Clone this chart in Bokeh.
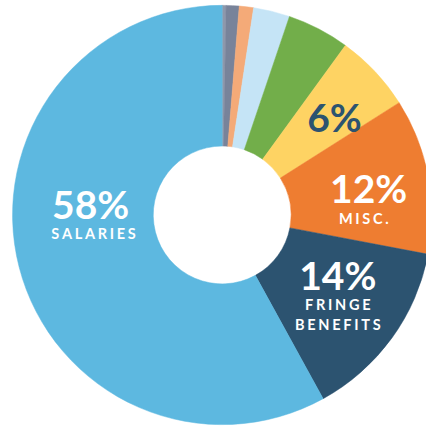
import math
from bokeh.plotting import figure
from bokeh.models import Range1d, ColumnDataSource
from bokeh.core.properties import value
from bokeh.embed import file_html
from bokeh.resources import INLINE

# ---- data ----
categories = ["Other A", "Other B", "Other C", "Other D", "Other E",
              "Other F", "Misc.", "Fringe Benefits", "Salaries"]
shares = [0.3, 1.0, 1.1, 2.8, 4.8, 6, 12, 14, 58]
colors = ["#8e98ab", "#78839a", "#f4aa78", "#c5e4f6", "#72ae4a",
          "#fed363", "#ee7d31", "#2c5370", "#5db8e0"]

label_pcts = ["58%", "6%", "12%", "14%"]
label_names = ["SALARIES", "MISC.", "FRINGE\nBENEFITS"]

# ---- layout: data units are reference pixels (y measured up) ----
W, H = 426, 428
RW, RH = 442, 444
def Y(page_y):
    return RH - page_y

cx, cy = 230, Y(222.5)
r_out, r_in = 217.5, 71.5

total = sum(shares)
starts, ends = [], []
acc = 0.0
for s in shares:
    a0 = math.pi / 2 - 2 * math.pi * acc / total
    acc += s
    a1 = math.pi / 2 - 2 * math.pi * acc / total
    starts.append(a0)
    ends.append(a1)

src = ColumnDataSource(dict(cat=categories, share=shares, color=colors,
                            start=starts, end=ends))

p = figure(width=W, height=H, output_backend="svg", toolbar_location=None,
           x_range=Range1d(0, RW), y_range=Range1d(0, RH),
           x_axis_type=None, y_axis_type=None, min_border=0)
p.grid.visible = False
p.outline_line_color = None
p.background_fill_color = "white"

p.annular_wedge(x=cx, y=cy, inner_radius=r_in, outer_radius=r_out,
                start_angle="start", end_angle="end", direction="clock",
                fill_color="color", line_color="color", line_width=0.5,
                source=src)

SP = "\u2009\u200a"
def spaced(t):
    return "\n".join(SP.join(list(line)) for line in t.split("\n"))

# big percentages
pct_x = [93.5, 346.5, 382, 350]
pct_y = [211, 121, 195, 285]
pct_col = ["white", "#2c5370", "white", "white"]
p.text(x=pct_x, y=[Y(v) for v in pct_y], text=label_pcts,
       text_font=value("Lato"), text_font_style="bold", text_font_size="39px",
       text_color=pct_col, text_align="center", text_baseline="middle")

# names
nm_x = [96.5, 377, 350]
nm_y = [242, 226.5, 326]
p.text(x=nm_x, y=[Y(v) for v in nm_y], text=[spaced(t) for t in label_names],
       text_font=value("Lato"), text_font_style="bold", text_font_size="14.5px",
       text_color="white", text_align="center", text_baseline="middle",
       text_line_height=1.15)

open("out.html", "w").write(file_html(p, INLINE))
